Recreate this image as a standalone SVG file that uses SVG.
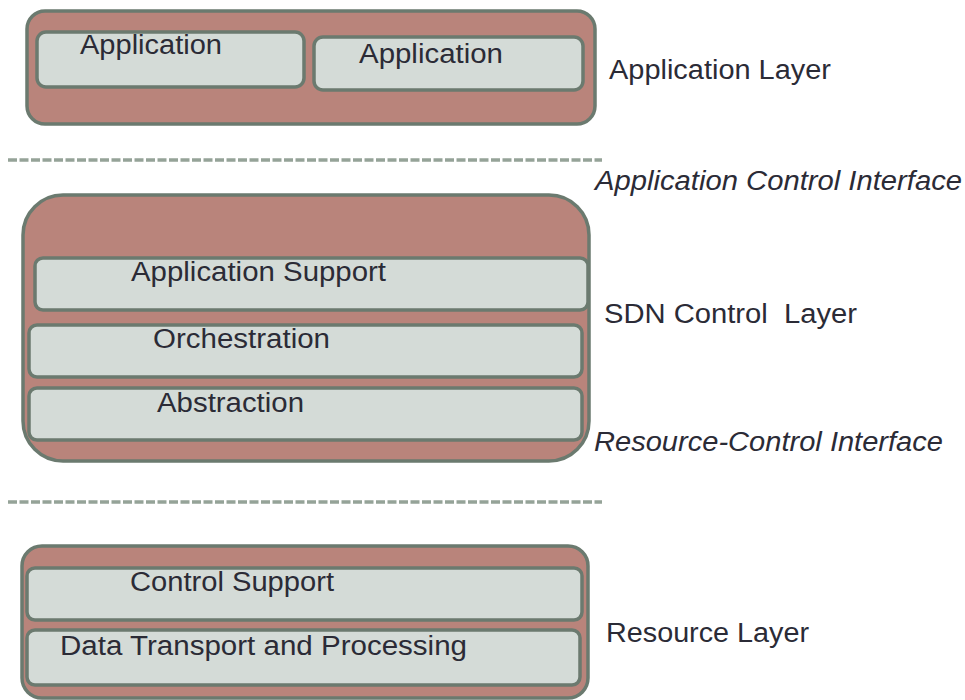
<svg xmlns="http://www.w3.org/2000/svg" width="965" height="700" viewBox="0 0 965 700">
<style>
.layer{fill:#b9847b;stroke:#6b7a6f;stroke-width:3.5}
.sub{fill:#d4dbd7;stroke:#6b7a6f;stroke-width:3.5}
.t{font-family:"Liberation Sans",Arial,sans-serif;font-size:27px;fill:#2b2b36}
.i{font-style:italic}
.dash{stroke:#95a398;stroke-width:3.5;stroke-dasharray:9,2.5;fill:none}
</style>
<rect width="965" height="700" fill="#ffffff"/>
<g id="connectors">
<line class="dash" x1="8" y1="160" x2="602" y2="160"/>
<line class="dash" x1="8" y1="502" x2="602" y2="502"/>
</g>
<g id="application-layer">
<rect class="layer" x="27" y="11" width="568" height="113" rx="18"/>
<text class="t" x="609" y="79" textLength="222" lengthAdjust="spacingAndGlyphs">Application Layer</text>
</g>
<g id="app1">
<rect class="sub" x="37" y="32" width="267" height="55" rx="9"/>
<text class="t" x="80" y="54" textLength="142" lengthAdjust="spacingAndGlyphs">Application</text>
</g>
<g id="app2">
<rect class="sub" x="314" y="37" width="269" height="53" rx="9"/>
<text class="t" x="359" y="63" textLength="144" lengthAdjust="spacingAndGlyphs">Application</text>
</g>
<g id="aci">
<text class="t i" x="595" y="190" textLength="367" lengthAdjust="spacingAndGlyphs">Application Control Interface</text>
</g>
<g id="sdn-control-layer">
<rect class="layer" x="23" y="195" width="566" height="266" rx="40"/>
<text class="t" x="604" y="323" textLength="253" lengthAdjust="spacingAndGlyphs" xml:space="preserve" style="white-space:pre">SDN Control  Layer</text>
</g>
<g id="app-support">
<rect class="sub" x="35" y="258" width="553" height="52" rx="8"/>
<text class="t" x="131" y="281" textLength="255" lengthAdjust="spacingAndGlyphs">Application Support</text>
</g>
<g id="orchestration">
<rect class="sub" x="29" y="325" width="553" height="52" rx="8"/>
<text class="t" x="153" y="348" textLength="177" lengthAdjust="spacingAndGlyphs">Orchestration</text>
</g>
<g id="abstraction">
<rect class="sub" x="29" y="388" width="553" height="52" rx="8"/>
<text class="t" x="157" y="412" textLength="147" lengthAdjust="spacingAndGlyphs">Abstraction</text>
</g>
<g id="rci">
<text class="t i" x="594" y="451" textLength="349" lengthAdjust="spacingAndGlyphs">Resource-Control Interface</text>
</g>
<g id="resource-layer">
<rect class="layer" x="22" y="546" width="566" height="152" rx="20"/>
<text class="t" x="606" y="642" textLength="203" lengthAdjust="spacingAndGlyphs">Resource Layer</text>
</g>
<g id="control-support">
<rect class="sub" x="27" y="568" width="555" height="52" rx="8"/>
<text class="t" x="130" y="591" textLength="204" lengthAdjust="spacingAndGlyphs">Control Support</text>
</g>
<g id="data-transport">
<rect class="sub" x="27" y="630" width="553" height="55" rx="8"/>
<text class="t" x="60" y="655" textLength="407" lengthAdjust="spacingAndGlyphs">Data Transport and Processing</text>
</g>
</svg>
